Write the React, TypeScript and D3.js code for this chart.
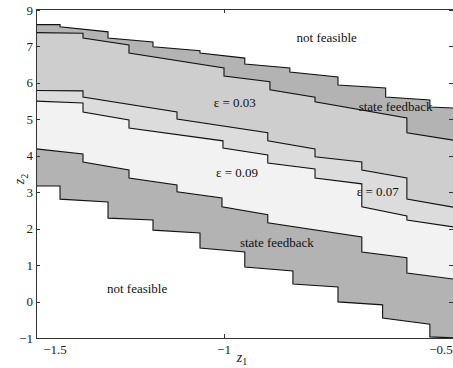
import React, { useRef, useEffect } from "react";
import * as d3 from "d3";

type Pt = [number, number];

// boundary curves, top to bottom (z1, z2)
const upperFeedbackTop: Pt[] = [
  [-1.556, 7.6], [-1.485, 7.6], [-1.485, 7.54], [-1.343, 7.4], [-1.343, 7.23],
  [-1.21, 7.12], [-1.21, 6.99], [-1.071, 6.88], [-1.071, 6.82], [-0.952, 6.68],
  [-0.952, 6.52], [-0.848, 6.41], [-0.848, 6.3], [-0.737, 6.16], [-0.737, 5.94],
  [-0.627, 5.86], [-0.627, 5.61], [-0.525, 5.53], [-0.525, 5.34], [-0.467, 5.31],
];
const eps03Top: Pt[] = [
  [-1.556, 7.38], [-1.417, 7.36], [-1.417, 7.23], [-1.281, 7.04], [-1.281, 6.82],
  [-1.0, 6.41], [-1.0, 6.19], [-0.894, 6.03], [-0.894, 5.81], [-0.79, 5.61],
  [-0.79, 5.48], [-0.578, 5.04], [-0.578, 4.63], [-0.467, 4.42],
];
const eps07Top: Pt[] = [
  [-1.556, 5.79], [-1.417, 5.78], [-1.417, 5.61], [-1.139, 5.2], [-1.139, 5.01],
  [-0.899, 4.63], [-0.899, 4.41], [-0.79, 4.19], [-0.79, 3.97], [-0.682, 3.83],
  [-0.682, 3.61], [-0.578, 3.39], [-0.578, 2.81], [-0.467, 2.58],
];
const eps09Top: Pt[] = [
  [-1.556, 5.5], [-1.417, 5.45], [-1.417, 5.2], [-1.281, 4.98], [-1.281, 4.76],
  [-1.003, 4.41], [-1.003, 4.21], [-0.899, 4.02], [-0.899, 3.8], [-0.79, 3.64],
  [-0.79, 3.39], [-0.682, 3.23], [-0.682, 2.6], [-0.578, 2.35], [-0.578, 2.24],
  [-0.467, 2.04],
];
const lowerFeedbackTop: Pt[] = [
  [-1.556, 4.19], [-1.417, 4.05], [-1.417, 3.83], [-1.281, 3.61], [-1.281, 3.39],
  [-1.139, 3.2], [-1.139, 3.01], [-1.006, 2.84], [-1.006, 2.6], [-0.899, 2.38],
  [-0.899, 2.16], [-0.682, 1.77], [-0.682, 1.36], [-0.578, 1.2], [-0.578, 0.78],
  [-0.467, 0.61],
];
const lowerFeedbackBottom: Pt[] = [
  [-1.556, 3.17], [-1.485, 3.17], [-1.485, 2.81], [-1.343, 2.73], [-1.343, 2.29],
  [-1.21, 2.24], [-1.21, 1.96], [-1.071, 1.88], [-1.071, 1.47], [-0.952, 1.36],
  [-0.952, 0.95], [-0.841, 0.84], [-0.841, 0.48], [-0.737, 0.4], [-0.737, -0.01],
  [-0.634, -0.09], [-0.634, -0.45], [-0.525, -0.62], [-0.525, -0.97], [-0.467, -1.0],
];

const curves = [
  upperFeedbackTop, eps03Top, eps07Top, eps09Top, lowerFeedbackTop, lowerFeedbackBottom,
];
const bandColors = ["#b3b3b3", "#cecece", "#dcdcdc", "#f2f2f2", "#b3b3b3", "#ffffff"];

const yTicks = [-1, 0, 1, 2, 3, 4, 5, 6, 7, 8];
const yTickLabels = ["−1", "0", "1", "2", "3", "4", "5", "6", "7", "9"];
const xTicks = [-1];
const xLabelValues = [-1.5, -1, -0.5];
const xLabelTexts = ["−1.5", "−1", "−0.5"];

const regionLabels = [
  { text: "not feasible", x: -0.763, y: 7.26 },
  { text: "ε = 0.03", x: -0.975, y: 5.45 },
  { text: "state feedback", x: -0.604, y: 5.34 },
  { text: "ε = 0.09", x: -0.97, y: 3.53 },
  { text: "ε = 0.07", x: -0.645, y: 3.01 },
  { text: "state feedback", x: -0.878, y: 1.63 },
  { text: "not feasible", x: -1.257, y: 0.37 },
];

const W = 453;
const H = 368;
const FONT = "'Liberation Serif', 'Times New Roman', serif";

const App = () => {
  const ref = useRef<SVGSVGElement>(null);

  useEffect(() => {
    const svg = d3.select(ref.current);
    svg.selectAll("*").remove();

    const left = 36, top = 9, right = 455, bottom = 338;

    const x = d3.scaleLinear().domain([-1.556, -1, -0.467]).range([left, 224, right]);
    const y = d3.scaleLinear().domain([-1, 8]).range([bottom, 10]);

    svg.append("rect").attr("width", W).attr("height", H).attr("fill", "#fff");

    svg.append("clipPath").attr("id", "plot-clip")
      .append("rect")
      .attr("x", left).attr("y", top)
      .attr("width", right - left).attr("height", bottom - top);

    const g = svg.append("g").attr("clip-path", "url(#plot-clip)");

    const area = d3.area<Pt>()
      .x((d) => x(d[0]))
      .y0(bottom)
      .y1((d) => y(d[1]));
    const line = d3.line<Pt>()
      .x((d) => x(d[0]))
      .y((d) => y(d[1]));

    curves.forEach((c, i) => {
      g.append("path").datum(c).attr("fill", bandColors[i]).attr("d", area);
    });
    curves.forEach((c) => {
      g.append("path")
        .datum(c)
        .attr("fill", "none")
        .attr("stroke", "#111")
        .attr("stroke-width", 1.1)
        .attr("d", line);
    });

    // box
    svg.append("rect")
      .attr("x", left + 0.5).attr("y", top + 0.5)
      .attr("width", right - left).attr("height", bottom - top)
      .attr("fill", "none").attr("stroke", "#333").attr("stroke-width", 1);

    // y ticks (both sides, inward)
    yTicks.forEach((v) => {
      const py = Math.round(y(v)) + 0.5;
      svg.append("line").attr("x1", left).attr("x2", left + 4)
        .attr("y1", py).attr("y2", py).attr("stroke", "#333");
      svg.append("line").attr("x1", right - 6).attr("x2", right)
        .attr("y1", py).attr("y2", py).attr("stroke", "#333");
    });
    svg.append("g")
      .selectAll("text")
      .data(yTicks)
      .join("text")
      .attr("x", left - 3)
      .attr("y", (d) => y(d))
      .attr("dy", "0.35em")
      .attr("text-anchor", "end")
      .attr("font-family", FONT)
      .attr("font-size", 13)
      .attr("fill", "#222")
      .text((d, i) => yTickLabels[i]);

    // x ticks
    xTicks.forEach((v) => {
      const px = Math.round(x(v)) + 0.5;
      svg.append("line").attr("x1", px).attr("x2", px)
        .attr("y1", bottom).attr("y2", bottom - 4).attr("stroke", "#333");
      svg.append("line").attr("x1", px).attr("x2", px)
        .attr("y1", top).attr("y2", top + 4).attr("stroke", "#333");
    });
    const xl = d3.scaleLinear().domain([-1.5, -1, -0.5]).range([55, 224, 441]);
    svg.append("g")
      .selectAll("text")
      .data(xLabelValues)
      .join("text")
      .attr("x", (d) => xl(d))
      .attr("y", bottom + 16)
      .attr("text-anchor", "middle")
      .attr("font-family", FONT)
      .attr("font-size", 13)
      .attr("fill", "#222")
      .text((d, i) => xLabelTexts[i]);

    // axis titles
    const zx = svg.append("text")
      .attr("x", 242).attr("y", 362)
      .attr("text-anchor", "middle")
      .attr("font-family", FONT)
      .attr("font-size", 14)
      .attr("fill", "#222");
    zx.append("tspan").attr("font-style", "italic").text("z");
    zx.append("tspan").attr("font-size", 10).attr("dy", 3).text("1");

    const zy = svg.append("text")
      .attr("transform", "translate(24,179) rotate(-90)")
      .attr("text-anchor", "middle")
      .attr("font-family", FONT)
      .attr("font-size", 14)
      .attr("fill", "#222");
    zy.append("tspan").attr("font-style", "italic").text("z");
    zy.append("tspan").attr("font-size", 10).attr("dy", 4).text("2");

    // region labels
    svg.append("g")
      .selectAll("text")
      .data(regionLabels)
      .join("text")
      .attr("x", (d) => x(d.x))
      .attr("y", (d) => y(d.y))
      .attr("dy", "0.35em")
      .attr("text-anchor", "middle")
      .attr("font-family", FONT)
      .attr("font-size", 13)
      .attr("fill", "#111")
      .text((d) => d.text);
  }, []);

  return (
    <svg
      ref={ref}
      width={W}
      height={H}
      style={{ display: "block", position: "absolute", left: 0, top: 0 }}
    />
  );
};

export default App;
